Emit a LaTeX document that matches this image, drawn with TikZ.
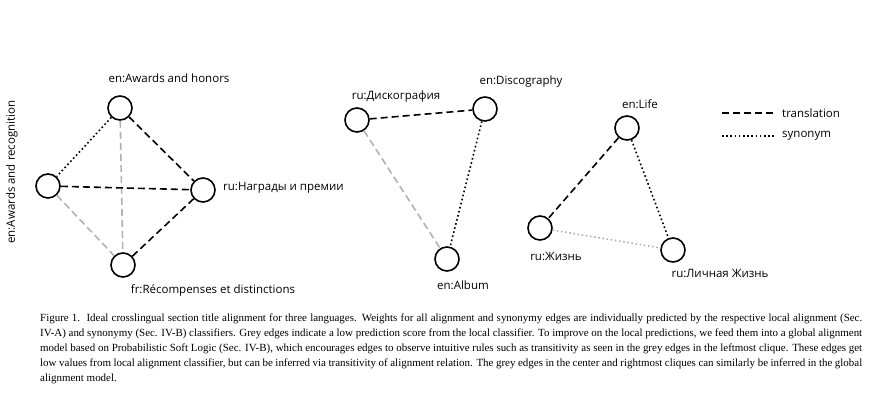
\documentclass[tikz,border=0pt]{standalone}
\usepackage{fontspec}
\setmainfont{Liberation Serif}
\newfontfamily\lab{Open Sans}
\begin{document}
\begin{tikzpicture}[x=1pt,y=-1pt,
  v/.style={circle,draw,line width=1.6pt,minimum size=24pt,inner sep=0pt},
  lb/.style={font=\lab\fontsize{11.5}{13}\selectfont,inner sep=1pt},
  tr/.style={line width=1.6pt,dash pattern=on 7pt off 4pt},
  sy/.style={line width=1.6pt,dash pattern=on 1.6pt off 2.6pt},
  gtr/.style={tr,color=black!30},
  gsy/.style={sy,color=black!30}]
\useasboundingbox (0,0) rectangle (892,407);
% left clique
\node[v] (A) at (120,108) {};
\node[v] (B) at (48,186) {};
\node[v] (C) at (203,190) {};
\node[v] (D) at (123,265) {};
\node[lb] (la) at (169,78) {en:Awards and honors};
\node[lb,rotate=90] (lb1) at (12,172) {en:Awards and recognition};
\node[lb,anchor=west] (lc) at (222,188) {ru:Награды и премии};
\node[lb] (ld) at (213,290) {fr:Récompenses et distinctions};
\draw[gtr] (A) -- (D);
\draw[gtr] (B) -- (D);
\draw[sy] (A) -- (B);
\draw[tr] (A) -- (C);
\draw[tr] (B) -- (C);
\draw[tr] (C) -- (D);
% middle
\node[v] (M1) at (357,120) {};
\node[v] (M2) at (485,109) {};
\node[v] (M3) at (447,259) {};
\node[lb] (lm1) at (396,97) {ru:Дискография};
\node[lb] (lm2) at (521,82) {en:Discography};
\node[lb] (lm3) at (463,285) {en:Album};
\draw[gtr] (M1) -- (M3);
\draw[tr] (M1) -- (M2);
\draw[sy] (M2) -- (M3);
% right
\node[v] (R1) at (627,128) {};
\node[v] (R2) at (540,228) {};
\node[v] (R3) at (673,250) {};
\node[lb] (lr1) at (640,104) {en:Life};
\node[lb] (lr2) at (556,256) {ru:Жизнь};
\node[lb] (lr3) at (720,273) {ru:Личная Жизнь};
\draw[gsy] (R2) -- (R3);
\draw[tr] (R1) -- (R2);
\draw[sy] (R1) -- (R3);
% legend
\coordinate (t0) at (722,113);
\coordinate (t1) at (776,113);
\node[lb,anchor=west] (tl) at (781,113) {translation};
\draw[tr] (t0) -- (t1);
\coordinate (s0) at (722,136);
\coordinate (s1) at (776,136);
\node[lb,anchor=west] (sl) at (781,136) {synonym};
\draw[sy] (s0) -- (s1);
% caption
\node[anchor=north west,text width=822pt,align=justify,inner sep=0pt,font=\fontsize{10.95}{15}\selectfont] (cap) at (40,314)
{Figure 1.\ \ Ideal crosslingual section title alignment for three languages. Weights for all alignment and synonymy edges are individually predicted by the respective local alignment (Sec. IV-A) and synonymy (Sec. IV-B) classifiers. Grey edges indicate a low prediction score from the local classifier. To improve on the local predictions, we feed them into a global alignment model based on Probabilistic Soft Logic (Sec. IV-B), which encourages edges to observe intuitive rules such as transitivity as seen in the grey edges in the leftmost clique. These edges get low values from local alignment classifier, but can be inferred via transitivity of alignment relation. The grey edges in the center and rightmost cliques can similarly be inferred in the global alignment model.};
\end{tikzpicture}
\end{document}
